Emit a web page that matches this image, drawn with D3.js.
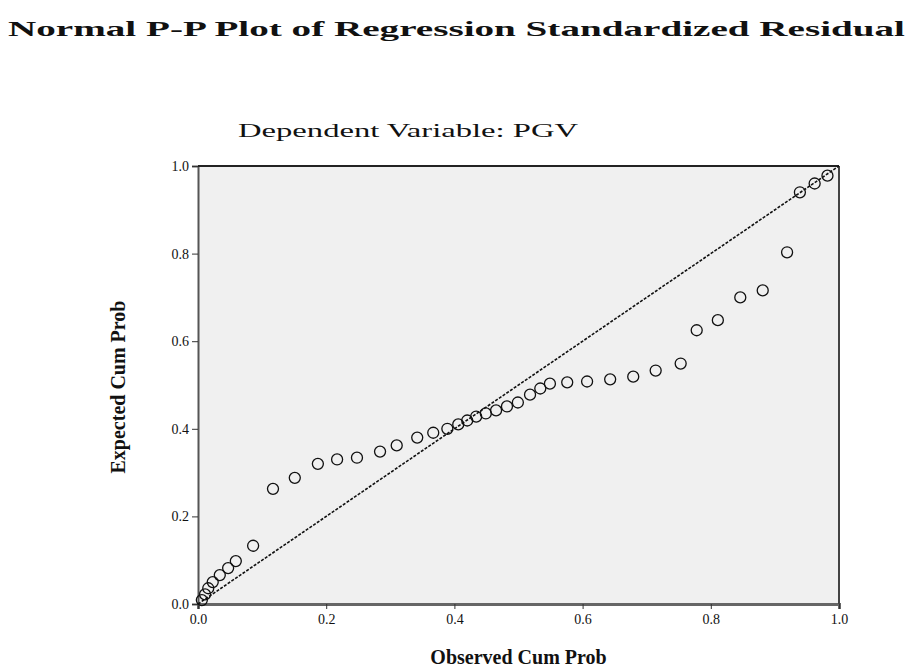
<!DOCTYPE html>
<html>
<head>
<meta charset="utf-8">
<script src="https://cdn.jsdelivr.net/npm/d3@7"></script>
<style>
  html, body { margin: 0; padding: 0; background: #fff; }
  svg { display: block; }
  text { font-family: "Liberation Serif", "DejaVu Serif", serif; fill: #111; }
</style>
</head>
<body>
<svg id="chart" width="911" height="667"></svg>
<script>
// ---- Data ----
const titleText = "Normal P-P Plot of Regression Standardized Residual";
const subtitleText = "Dependent Variable: PGV";
const xLabelText = "Observed Cum Prob";
const yLabelText = "Expected Cum Prob";
const xTicks = [0.0, 0.2, 0.4, 0.6, 0.8, 1.0];
const yTicks = [0.0, 0.2, 0.4, 0.6, 0.8, 1.0];
const observedCum = [0.006, 0.011, 0.016, 0.023, 0.034, 0.047, 0.059, 0.086,
  0.117, 0.151, 0.187, 0.217, 0.248, 0.284, 0.310, 0.342, 0.367, 0.389, 0.406,
  0.420, 0.434, 0.449, 0.465, 0.482, 0.499, 0.518, 0.534, 0.549, 0.576, 0.607,
  0.643, 0.679, 0.714, 0.753, 0.778, 0.811, 0.846, 0.881, 0.919, 0.939, 0.962, 0.982];
const expectedCum = [0.009, 0.022, 0.036, 0.050, 0.066, 0.082, 0.098, 0.133,
  0.263, 0.288, 0.320, 0.330, 0.334, 0.348, 0.362, 0.380, 0.391, 0.400, 0.410,
  0.419, 0.428, 0.435, 0.442, 0.451, 0.460, 0.478, 0.492, 0.503, 0.506, 0.508,
  0.513, 0.519, 0.533, 0.549, 0.625, 0.648, 0.700, 0.716, 0.803, 0.940, 0.960, 0.978];

// ---- Layout ----
const svg = d3.select("#chart");
const margin = { left: 198, right: 911 - 839, top: 166, bottom: 667 - 604 };
const W = 911, H = 667;
const x = d3.scaleLinear().domain([0, 1]).range([margin.left, W - margin.right]);
const y = d3.scaleLinear().domain([0, 1]).range([H - margin.bottom, margin.top]);

// Title
svg.append("text")
  .attr("x", 8).attr("y", 36)
  .attr("font-size", 21).attr("font-weight", "bold")
  .attr("textLength", 897).attr("lengthAdjust", "spacingAndGlyphs")
  .text(titleText);

// Subtitle
svg.append("text")
  .attr("x", 238).attr("y", 137)
  .attr("font-size", 19)
  .attr("textLength", 340).attr("lengthAdjust", "spacingAndGlyphs")
  .text(subtitleText);

// Plot background
svg.append("rect")
  .attr("x", x(0)).attr("y", y(1))
  .attr("width", x(1) - x(0)).attr("height", y(0) - y(1))
  .attr("fill", "#f0f0f0");

// Axes
const fmt = d3.format(".1f");
const xAxis = svg.append("g")
  .attr("transform", `translate(0,${y(0)})`)
  .call(d3.axisBottom(x).tickValues(xTicks).tickFormat(fmt).tickSize(5).tickPadding(5));
const yAxis = svg.append("g")
  .attr("transform", `translate(${x(0)},0)`)
  .call(d3.axisLeft(y).tickValues(yTicks).tickFormat(fmt).tickSize(6).tickPadding(3));

[xAxis, yAxis].forEach(g => {
  g.selectAll("text").attr("font-family", "'Liberation Serif', serif")
    .attr("font-size", 14).attr("fill", "#111");
  g.selectAll("line").attr("stroke", "#333");
});
xAxis.select(".domain").attr("stroke", "#666").attr("stroke-width", 3);
yAxis.select(".domain").attr("stroke", "#555").attr("stroke-width", 2);

// frame top & right
svg.append("line").attr("x1", x(0)).attr("x2", x(1)).attr("y1", y(1)).attr("y2", y(1))
  .attr("stroke", "#222").attr("stroke-width", 2);
svg.append("line").attr("x1", x(1)).attr("x2", x(1)).attr("y1", y(1)).attr("y2", y(0))
  .attr("stroke", "#444").attr("stroke-width", 2);

// Reference diagonal
svg.append("line")
  .attr("x1", x(0)).attr("y1", y(0)).attr("x2", x(1)).attr("y2", y(1))
  .attr("stroke", "#111").attr("stroke-width", 1.6)
  .attr("stroke-dasharray", "3,1.5");

// Points
const pts = observedCum.map((v, i) => ({ o: v, e: expectedCum[i] }));
svg.append("g").selectAll("circle").data(pts).join("circle")
  .attr("cx", d => x(d.o)).attr("cy", d => y(d.e)).attr("r", 5.5)
  .attr("fill", "none").attr("stroke", "#111").attr("stroke-width", 1.3);

// Axis labels
svg.append("text")
  .attr("x", (x(0) + x(1)) / 2).attr("y", 664)
  .attr("text-anchor", "middle").attr("font-size", 20).attr("font-weight", "bold")
  .text(xLabelText);
svg.append("text")
  .attr("transform", `translate(125,${(y(0) + y(1)) / 2 + 2}) rotate(-90)`)
  .attr("text-anchor", "middle").attr("font-size", 20).attr("font-weight", "bold")
  .text(yLabelText);
</script>
</body>
</html>
